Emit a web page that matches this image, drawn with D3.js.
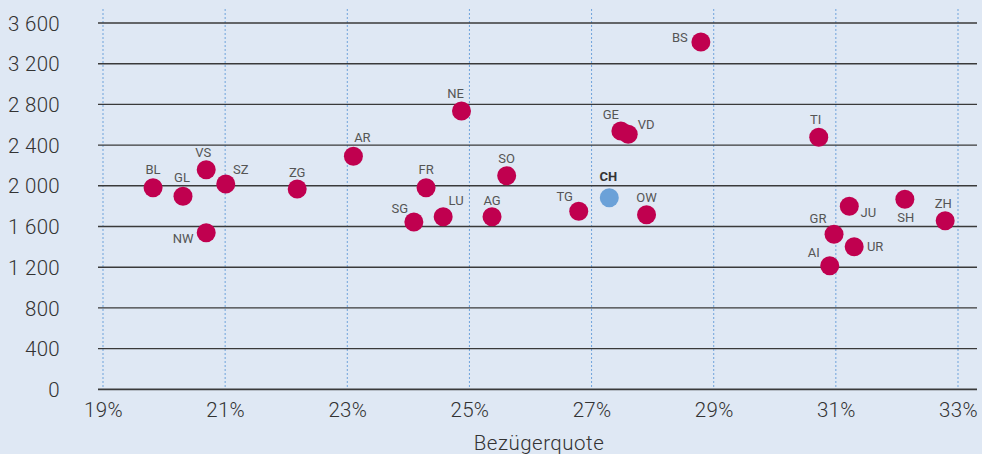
<html><head>
<meta charset="UTF-8">
<title>Bezügerquote</title>
<script src="https://d3js.org/d3.v7.min.js"></script>
<style>
    body { margin: 0; background: #dfe8f4; }
    svg { display: block; font-family: Roboto, "Open Sans", sans-serif; }
    .tick text { font-family: "Roboto Light", Roboto, sans-serif; font-size: 20.5px; font-weight: 300; fill: #333; letter-spacing: 0.3px; }
    .lbl { font-size: 13px; fill: #555; }
</style>
</head>
<body>
<div id="chart"></div>
<script>
    // canton codes, Bezügerquote (%), value
    const cantons = ["BL","GL","VS","SZ","NW","ZG","AR","NE","GE","VD","FR","SO","SG","LU","AG","TG","OW","BS","TI","JU","SH","ZH","GR","UR","AI","CH"];
    const quote   = [19.82,20.31,20.69,21.01,20.69,22.18,23.10,24.87,27.48,27.60,24.29,25.61,24.09,24.57,25.37,26.79,27.90,28.79,30.72,31.22,32.13,32.79,30.97,31.30,30.90,27.29];
    const values  = [1980,1897,2158,2018,1539,1969,2290,2735,2539,2506,1981,2099,1644,1696,1696,1749,1716,3413,2477,1799,1867,1657,1523,1401,1215,1883];
    // label offsets from the dot centre (dx, dy)
    const labelDx = [0,-1,-3,15,-23,0,9,-6,-10,18,0,0,-14,13,0,-14,0,-21,-3,19,1,-2,-16,21,-16,-1];
    const labelDy = [-18,-19,-17,-15,6,-17,-19,-18,-17,-10,-18,-17,-14,-16,-16,-15,-17,-5,-18,6,18,-17,-16,0,-13,-21];

    const xTicks = [19,21,23,25,27,29,31,33];
    const yTicks = [0,400,800,1200,1600,2000,2400,2800,3200,3600];

    const W = 982, H = 454;
    const plotLeft = 103, plotRight = 958, plotTop = 23, plotBottom = 389.3;

    const x = d3.scaleLinear().domain([19, 33]).range([plotLeft, plotRight]);
    const y = d3.scaleLinear().domain([0, 3600]).range([plotBottom, plotTop]);

    const svg = d3.select("#chart").append("svg")
        .attr("width", W).attr("height", H);

    // vertical dotted grid
    svg.append("g")
        .selectAll("line").data(xTicks).enter().append("line")
        .attr("x1", d => x(d)).attr("x2", d => x(d))
        .attr("y1", 9).attr("y2", plotBottom)
        .attr("stroke", "#6fa3db").attr("stroke-width", 1)
        .attr("stroke-dasharray", "2,2");

    // horizontal grid
    svg.append("g")
        .selectAll("line").data(yTicks).enter().append("line")
        .attr("x1", 98).attr("x2", 977)
        .attr("y1", d => y(d)).attr("y2", d => y(d))
        .attr("stroke", "#3a3a3a").attr("stroke-width", d => d === 0 ? 1.8 : 1.4);

    // y axis labels
    const yAxis = svg.append("g")
        .attr("transform", "translate(60,0)")
        .call(d3.axisLeft(y).tickValues(yTicks).tickSize(0)
            .tickFormat(d => d3.format(",")(d).replace(",", " ")));
    yAxis.select(".domain").remove();
    yAxis.selectAll("text").attr("x", 0).attr("dy", "0.35em");

    // x axis labels
    const xAxis = svg.append("g")
        .attr("transform", `translate(0,${plotBottom})`)
        .call(d3.axisBottom(x).tickValues(xTicks).tickSize(0).tickFormat(d => d + "%"));
    xAxis.select(".domain").remove();
    xAxis.selectAll("text").attr("y", 21).attr("dy", "0.35em");

    svg.append("text")
        .attr("x", 539).attr("y", 443).attr("dy", "0.35em")
        .attr("text-anchor", "middle")
        .style("font-family", "'Roboto Light', Roboto, sans-serif")
        .style("font-size", "20.5px").style("font-weight", 300).style("fill", "#333")
        .style("letter-spacing", "0.5px")
        .text("Bezügerquote");

    const data = cantons.map((c, i) => ({ c, q: quote[i], v: values[i], dx: labelDx[i], dy: labelDy[i] }));

    svg.append("g")
        .selectAll("circle").data(data).enter().append("circle")
        .attr("cx", d => x(d.q)).attr("cy", d => y(d.v))
        .attr("r", 9.5)
        .attr("fill", d => d.c === "CH" ? "#6ba1d8" : "#c0004f");

    svg.append("g")
        .selectAll("text").data(data).enter().append("text")
        .attr("class", "lbl")
        .attr("x", d => x(d.q) + d.dx).attr("y", d => y(d.v) + d.dy)
        .attr("dy", "0.35em")
        .attr("text-anchor", "middle")
        .style("font-weight", d => d.c === "CH" ? 700 : 400)
        .style("fill", d => d.c === "CH" ? "#333" : "#555")
        .text(d => d.c);
</script>
</body>
</html>
